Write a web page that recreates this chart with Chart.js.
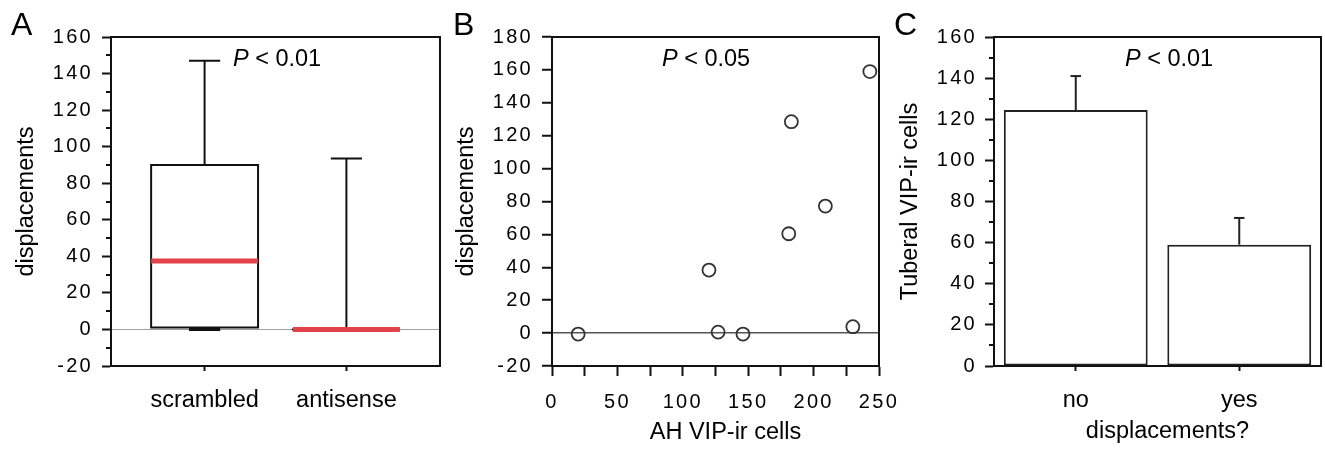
<!DOCTYPE html>
<html>
<head>
<meta charset="utf-8">
<script src="https://cdn.jsdelivr.net/npm/chart.js@4.4.1/dist/chart.umd.min.js"></script>
<style>
    html, body { margin: 0; padding: 0; background: #fff; }
    #wrap { position: relative; width: 1325px; height: 449px; overflow: hidden; }
    canvas { position: absolute; top: 0; }
</style>
</head>
<body>
<div id="wrap">
    <canvas id="chartA" width="445" height="449" style="left:0px"></canvas>
    <canvas id="chartB" width="470" height="449" style="left:445px"></canvas>
    <canvas id="chartC" width="440" height="449" style="left:885px"></canvas>
</div>
<script>
// Panel A - box plot of displacements
const boxGroups = ['scrambled', 'antisense'];
const boxMin = [0, 0];
const boxQ1 = [1, 0];
const boxMedian = [37.5, 0];
const boxQ3 = [90, 0];
const boxMax = [147, 93.5];
const yTicksA = [-20, 0, 20, 40, 60, 80, 100, 120, 140, 160];

// Panel B - displacements vs AH VIP-ir cells
const ahCells = [20, 127, 146, 120, 181, 183, 209, 230, 243];
const displacements = [-0.6, 0.6, -0.6, 38.3, 60.4, 128.5, 77.2, 3.9, 159];
const xTicksB = [0, 25, 50, 75, 100, 125, 150, 175, 200, 225, 250];
const yTicksB = [-20, 0, 20, 40, 60, 80, 100, 120, 140, 160, 180];

// Panel C - tuberal VIP-ir cells by displacement
const barGroups = ['no', 'yes'];
const barMeans = [124.5, 59];
const barErrors = [16.5, 13];
const yTicksC = [0, 20, 40, 60, 80, 100, 120, 140, 160];

const FONT = "'Liberation Sans', Arial, Helvetica, sans-serif";
const INK = '#111';
Chart.defaults.font.family = FONT;
Chart.defaults.color = '#000';
Chart.defaults.animation = false;

// fixed axis sizes so the plot areas line up with the figure
function fixWidth(w) {
    return (scale) => { scale.width = w; scale.paddingTop = 0; scale.paddingBottom = 0; };
}
function fixHeight(h) {
    return (scale) => { scale.height = h; scale.paddingLeft = 0; scale.paddingRight = 0; };
}
function useTicks(values) {
    return (scale) => { scale.ticks = values.map(v => ({ value: v })); };
}

// frame, minor ticks, panel letter, P value, x title, spaced tick digits
const decor = {
    id: 'decor',
    afterDatasetsDraw(chart) {
        chart.ctx.letterSpacing = '2.3px';
    },
    afterDraw(chart, args, opts) {
        const ctx = chart.ctx;
        const area = chart.chartArea;
        ctx.save();
        ctx.letterSpacing = '0px';
        ctx.strokeStyle = INK;
        ctx.lineWidth = 2;
        ctx.beginPath();
        ctx.moveTo(area.left, area.top);
        ctx.lineTo(area.right, area.top);
        ctx.lineTo(area.right, area.bottom);
        ctx.stroke();

        if (opts.minor) {
            const sc = chart.scales.y;
            ctx.beginPath();
            for (let v = sc.min + opts.minor; v < sc.max; v += opts.minor * 2) {
                const y = Math.round(sc.getPixelForValue(v));
                ctx.moveTo(sc.right - 5, y);
                ctx.lineTo(sc.right, y);
            }
            ctx.stroke();
        }

        ctx.fillStyle = '#000';
        ctx.textBaseline = 'alphabetic';
        ctx.textAlign = 'left';
        ctx.font = '32px ' + FONT;
        ctx.fillText(opts.letter, opts.letterX, 35);

        ctx.font = 'italic 23.5px ' + FONT;
        ctx.fillText('P', opts.pX, 66);
        const w = ctx.measureText('P').width;
        ctx.font = '23.5px ' + FONT;
        ctx.fillText(' < ' + opts.pText, opts.pX + w, 66);

        if (opts.xTitle) {
            ctx.textAlign = 'center';
            ctx.fillText(opts.xTitle, (area.left + area.right) / 2 + 10, opts.xTitleY);
        }
        ctx.restore();
    }
};

const tickFont = { size: 20 };
const labelFont = { size: 23.5 };

// ---------- Panel A ----------
const boxHalf = 0.377;
const capHalf = 0.11;
function lineSet(points, color, width, order) {
    return {
        data: points,
        showLine: true,
        borderColor: color,
        borderWidth: width,
        pointRadius: 0,
        fill: false,
        tension: 0,
        borderCapStyle: 'butt',
        borderJoinStyle: 'miter',
        order: order
    };
}
const boxSets = [];
boxGroups.forEach((g, i) => {
    const c = i + 1;
    const box = lineSet([
        { x: c - boxHalf, y: boxQ1[i] }, { x: c - boxHalf, y: boxQ3[i] },
        { x: c + boxHalf, y: boxQ3[i] }, { x: c + boxHalf, y: boxQ1[i] },
        { x: c - boxHalf, y: boxQ1[i] }
    ], INK, 2, 3);
    box.borderCapStyle = 'square';
    boxSets.push(box);
    boxSets.push(lineSet([{ x: c, y: boxQ3[i] }, { x: c, y: boxMax[i] }], INK, 2, 3));
    boxSets.push(lineSet([{ x: c - capHalf, y: boxMax[i] }, { x: c + capHalf, y: boxMax[i] }], INK, 2, 2));
    boxSets.push(lineSet([{ x: c, y: boxMin[i] }, { x: c, y: boxQ1[i] }], INK, 2, 3));
    boxSets.push(lineSet([{ x: c - capHalf, y: boxMin[i] }, { x: c + capHalf, y: boxMin[i] }], INK, 3, 2));
    boxSets.push(lineSet([{ x: c - boxHalf, y: boxMedian[i] }, { x: c + boxHalf, y: boxMedian[i] }], '#e3424a', 5, 0));
});

new Chart(document.getElementById('chartA'), {
    type: 'scatter',
    data: { datasets: boxSets },
    options: {
        responsive: false,
        devicePixelRatio: 1,
        layout: { padding: { left: 0, right: 5, top: 37, bottom: 0 } },
        plugins: {
            legend: { display: false },
            tooltip: { enabled: false },
            decor: { letter: 'A', letterX: 11, pX: 233, pText: '0.01', minor: 10 }
        },
        scales: {
            x: {
                type: 'linear', min: 0.34, max: 2.66, bounds: 'data',
                afterBuildTicks: useTicks([1, 2]),
                afterFit: fixHeight(83),
                border: { color: INK, width: 2 },
                grid: { drawOnChartArea: false, tickLength: 5, tickColor: INK, tickWidth: 2 },
                ticks: { font: labelFont, padding: 15, maxRotation: 0, callback: (v) => boxGroups[v - 1] || '' }
            },
            y: {
                min: -20, max: 160,
                afterBuildTicks: useTicks(yTicksA),
                afterFit: fixWidth(111),
                border: { color: INK, width: 2 },
                grid: {
                    tickLength: 9, tickColor: INK, tickWidth: 2,
                    color: (c) => c.tick && c.tick.value === 0 ? '#a0a0a0' : 'rgba(0,0,0,0)',
                    lineWidth: 1
                },
                ticks: { font: tickFont, padding: 9, z: 1 },
                title: { display: true, text: 'displacements', font: labelFont, padding: { top: 12, bottom: 0 } }
            }
        }
    },
    plugins: [decor]
});

// ---------- Panel B ----------
new Chart(document.getElementById('chartB'), {
    type: 'scatter',
    data: {
        datasets: [{
            data: ahCells.map((x, i) => ({ x: x, y: displacements[i] })),
            pointRadius: 6.5,
            pointBorderWidth: 1.8,
            borderColor: '#333',
            backgroundColor: 'rgba(255,255,255,0)'
        }]
    },
    options: {
        responsive: false,
        devicePixelRatio: 1,
        layout: { padding: { left: 0, right: 36, top: 37, bottom: 0 } },
        plugins: {
            legend: { display: false },
            tooltip: { enabled: false },
            decor: { letter: 'B', letterX: 8, pX: 217, pText: '0.05', xTitle: 'AH VIP-ir cells', xTitleY: 439 }
        },
        scales: {
            x: {
                type: 'linear', min: 0, max: 250,
                afterBuildTicks: useTicks(xTicksB),
                afterFit: fixHeight(83),
                border: { color: INK, width: 2 },
                grid: { drawOnChartArea: false, tickLength: 10, tickColor: INK, tickWidth: 2 },
                ticks: { font: tickFont, padding: 14, z: 1, maxRotation: 0, autoSkip: false,
                    callback: (v) => v % 50 === 0 ? String(v) : '' }
            },
            y: {
                min: -20, max: 180,
                afterBuildTicks: useTicks(yTicksB),
                afterFit: fixWidth(107),
                border: { color: INK, width: 2 },
                grid: {
                    tickLength: 10, tickColor: INK, tickWidth: 2,
                    color: (c) => c.tick && c.tick.value === 0 ? '#555' : 'rgba(0,0,0,0)',
                    lineWidth: 1.5
                },
                ticks: { font: tickFont, padding: 9, z: 1 },
                title: { display: true, text: 'displacements', font: labelFont, padding: { top: 7, bottom: 0 } }
            }
        }
    },
    plugins: [decor]
});

// ---------- Panel C ----------
const errCap = 0.032;
const errSets = [];
barGroups.forEach((g, i) => {
    const top = barMeans[i] + barErrors[i];
    errSets.push(Object.assign(lineSet([{ x: i, y: barMeans[i] }, { x: i, y: top }], '#222', 2, 1), { type: 'line', xAxisID: 'xe' }));
    errSets.push(Object.assign(lineSet([{ x: i - errCap, y: top }, { x: i + errCap, y: top }], '#222', 2, 1), { type: 'line', xAxisID: 'xe' }));
});

new Chart(document.getElementById('chartC'), {
    type: 'bar',
    data: {
        labels: barGroups,
        datasets: [{
            data: barMeans,
            backgroundColor: '#fff',
            borderColor: '#222',
            borderWidth: 2,
            borderSkipped: false,
            grouped: false,
            barPercentage: 0.88,
            categoryPercentage: 1,
            order: 2
        }].concat(errSets)
    },
    options: {
        responsive: false,
        devicePixelRatio: 1,
        layout: { padding: { left: 0, right: 4, top: 37, bottom: 0 } },
        plugins: {
            legend: { display: false },
            tooltip: { enabled: false },
            decor: { letter: 'C', letterX: 9, pX: 240, pText: '0.01', minor: 10, xTitle: 'displacements?', xTitleY: 438 }
        },
        scales: {
            x: {
                type: 'category',
                offset: true,
                afterFit: fixHeight(83),
                border: { color: INK, width: 2 },
                grid: { offset: false, drawOnChartArea: false, tickLength: 5, tickColor: INK, tickWidth: 2 },
                ticks: { font: labelFont, padding: 15, maxRotation: 0 }
            },
            xe: { type: 'linear', min: -0.5, max: 1.5, offset: false, display: false },
            y: {
                min: 0, max: 160,
                afterBuildTicks: useTicks(yTicksC),
                afterFit: fixWidth(109),
                border: { color: INK, width: 2 },
                grid: { drawOnChartArea: false, tickLength: 9, tickColor: INK, tickWidth: 2 },
                ticks: { font: tickFont, padding: 8, z: 1 },
                title: { display: true, text: 'Tuberal VIP-ir cells', font: labelFont, padding: { top: 11, bottom: 0 } }
            }
        }
    },
    plugins: [decor]
});
</script>
</body>
</html>
